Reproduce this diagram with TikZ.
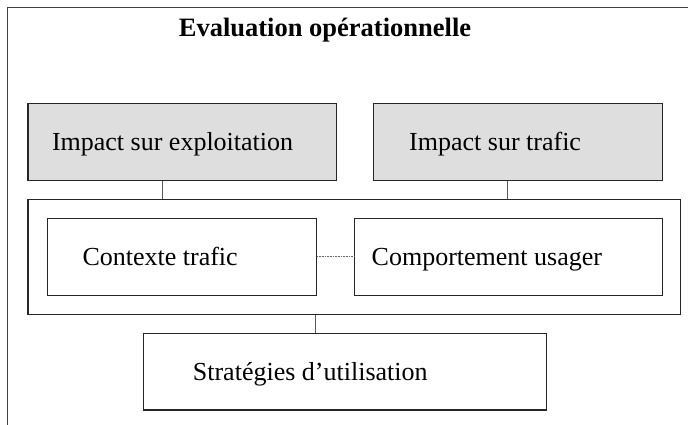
\documentclass[tikz,border=0pt]{standalone}
\usepackage{fontspec}
\setmainfont{Liberation Serif}
\begin{document}
\begin{tikzpicture}[x=1pt,y=-1pt,
  box/.style={draw=black!85,line width=1.2pt,inner sep=0pt,anchor=north west},
  graybox/.style={box,fill=black!13},
  lbl/.style={anchor=base west,inner sep=0pt,font=\fontsize{26}{30}\selectfont},
  conn/.style={draw=black!65,line width=1pt},
  dotconn/.style={draw=black!60,line width=1pt,dash pattern=on 1pt off 0.6pt}
]
\useasboundingbox (0,0) rectangle (688,425);
% outer frame (cropped)
\draw[draw=black!75,line width=1.6pt] (7.5,425) -- (7.5,7.5) -- (688,7.5);
\node[anchor=base,inner sep=0pt,font=\fontsize{26.5}{30}\selectfont\bfseries] (title) at (325,36.7) {Evaluation opérationnelle};
% boxes
\node[graybox,minimum width=308.2pt,minimum height=76.7pt] (b1) at (27.3,103.3) {};
\node[graybox,minimum width=288.7pt,minimum height=76.7pt] (b2) at (373,103.3) {};
\node[box,minimum width=652.7pt,minimum height=115.3pt] (cont) at (27.3,198.7) {};
\node[box,minimum width=269pt,minimum height=76.5pt] (ctx) at (46.7,218) {};
\node[box,minimum width=307.7pt,minimum height=76.5pt] (comp) at (354,218) {};
\node[box,minimum width=403pt,minimum height=76.8pt] (strat) at (142.7,332.5) {};
% labels
\node[lbl] (t1) at (51.8,150) {Impact sur exploitation};
\node[lbl] (t2) at (409,150) {Impact sur trafic};
\node[lbl] (t3) at (82.3,265) {Contexte trafic};
\node[lbl] (t4) at (371.5,265) {Comportement usager};
\node[lbl] (t5) at (192.7,380) {Stratégies d’utilisation};
% connector x positions
\coordinate (x1) at (162,0);
\coordinate (x2) at (507.7,0);
\coordinate (x3) at (315.7,0);
\draw[conn] (b1.south -| x1) -- (cont.north -| x1);
\draw[conn] (b2.south -| x2) -- (cont.north -| x2);
\draw[conn] (cont.south -| x3) -- (strat.north -| x3);
\draw[dotconn] (ctx.east) -- (comp.west);
\end{tikzpicture}
\end{document}
